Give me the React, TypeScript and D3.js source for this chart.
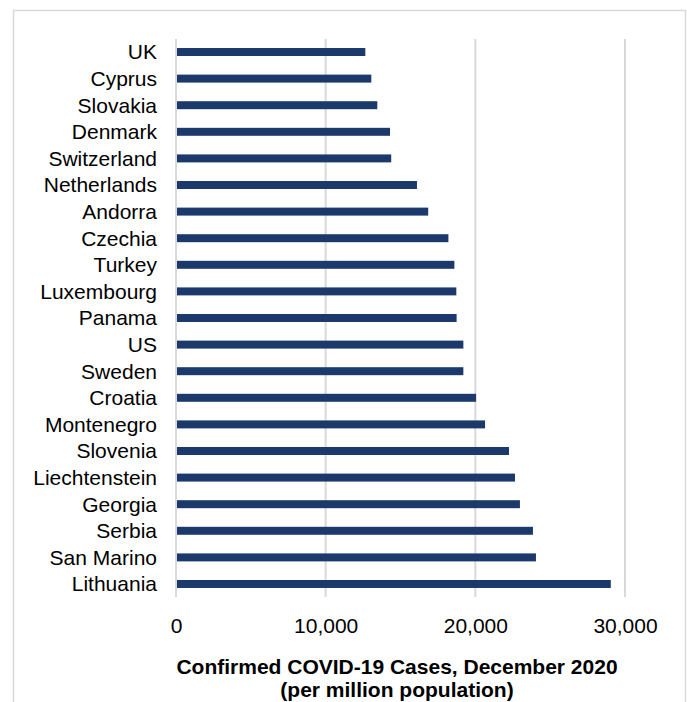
import * as React from "react";
import { scaleLinear, scaleBand, select, axisBottom } from "d3";

const countries = [
  "UK", "Cyprus", "Slovakia", "Denmark", "Switzerland", "Netherlands", "Andorra",
  "Czechia", "Turkey", "Luxembourg", "Panama", "US", "Sweden", "Croatia",
  "Montenegro", "Slovenia", "Liechtenstein", "Georgia", "Serbia", "San Marino", "Lithuania"
];
const cases = [
  12650, 13050, 13450, 14300, 14380, 16100, 16850,
  18200, 18600, 18730, 18750, 19200, 19200, 20050,
  20650, 22250, 22650, 22980, 23850, 24050, 29050
];
const tickValues = [0, 10000, 20000, 30000];

const W = 687;
const H = 702;
const FONT = "Liberation Sans, Arial, sans-serif";
const gridTop = 39;
const gridBottom = 597;

function App() {
  const axisRef = React.useRef<SVGGElement>(null);

  const x = scaleLinear().domain([0, 30000]).range([176, 625]);
  const y = scaleBand()
    .domain(countries)
    .range([42.7, 593.3])
    .paddingInner(0.7)
    .paddingOuter(0.2);

  React.useEffect(() => {
    const g = select(axisRef.current);
    g.call(
      axisBottom(x)
        .tickValues(tickValues)
        .tickSize(0)
        .tickPadding(21)
        .tickFormat((d: any) => (d === 0 ? "0" : Number(d).toLocaleString("en-US")))
    );
    g.select(".domain").remove();
    g.selectAll("text")
      .attr("font-family", FONT)
      .attr("font-size", 21)
      .attr("fill", "#000");
  }, []);

  return (
    <svg width={W} height={H} style={{ position: "absolute", left: 0, top: 0 }}>
      <rect x={13.5} y={10.5} width={672} height={720} fill="#fff" stroke="#d9d9d9" strokeWidth={1.5} />
      {tickValues.map(t => (
        <line key={t} x1={x(t)} x2={x(t)} y1={gridTop} y2={gridBottom} stroke="#d9d9d9" strokeWidth={2} />
      ))}
      {countries.map((c, i) => (
        <g key={c}>
          <rect x={x(0) + 1} y={y(c)} width={x(cases[i]) - x(0) - 1} height={y.bandwidth()} fill="#1b3a6b" />
          <text
            x={157}
            y={y(c)! + y.bandwidth() / 2}
            dy="0.35em"
            textAnchor="end"
            fontFamily={FONT}
            fontSize={21}
            fill="#000"
          >
            {c}
          </text>
        </g>
      ))}
      <g ref={axisRef} transform={`translate(0,${gridBottom})`} />
      <text x={397} y={674} textAnchor="middle" fontFamily={FONT} fontSize={21} fontWeight="bold">
        Confirmed COVID-19 Cases, December 2020
      </text>
      <text x={397} y={697} textAnchor="middle" fontFamily={FONT} fontSize={21} fontWeight="bold">
        (per million population)
      </text>
    </svg>
  );
}

export default App;
